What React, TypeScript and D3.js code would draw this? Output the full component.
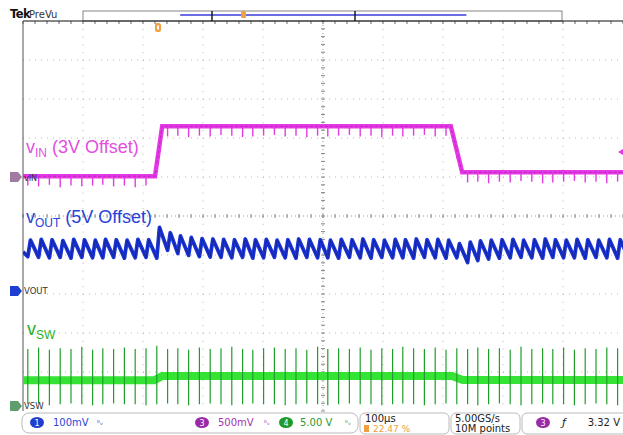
import React from 'react';
import * as d3 from 'd3';

const W = 623;
const H = 435;

// Horizontal: 100 µs/div, 10 divisions
const timeDomainUs = [0, 1000];
const timeGridUs = [100, 200, 300, 400, 500, 600, 700, 800, 900];
const divGrid = [-4, -3, -2, -1, 1, 2, 3, 4];

// channel setup (marker position in divisions, volts per division)
const vinMarkerDiv = 1.0;
const vinVoltsPerDiv = 0.5;
const voutMarkerDiv = -1.92;
const voutMvPerDiv = 100;
const vswMarkerDiv = -4.87;
const vswVoltsPerDiv = 5;

// switching events (µs)
const switchTimesUs = [
  8, 26, 44, 62, 80, 98, 116, 133, 151, 169, 187, 205, 223, 241, 258, 276, 294, 312, 330, 348,
  366, 383, 401, 419, 437, 455, 473, 491, 508, 526, 544, 562, 580, 598, 616, 633, 651, 669, 687, 705,
  723, 741, 758, 776, 794, 812, 830, 848, 866, 883, 901, 919, 937, 955, 973, 991,
];
const switchPeriodUs = 17.87;

// VOUT ripple (mV above offset)
const voutStartMv = 100;
const voutPeakMv = [
  130, 132, 131, 129, 132, 131, 130, 132, 131, 130, 132, 131,
  163, 149, 141, 137, 134, 133,
  132, 131, 133, 131, 132, 130, 131, 133, 132, 131, 130, 132, 131, 133, 131, 130, 132, 131, 133, 131, 132, 130,
  121, 125, 128, 130,
  131, 132, 130, 131, 133, 131, 130, 132, 131, 130, 132, 131,
];
const voutTroughMv = [
  86, 85, 86, 84, 86, 85, 85, 86, 84, 85, 86, 84,
  104, 96, 91, 88, 87, 86,
  85, 86, 84, 85, 86, 85, 84, 86, 85, 85, 84, 86, 85, 84, 86, 85, 85, 84, 86, 85, 84, 85,
  73, 78, 82, 84,
  85, 86, 85, 84, 86, 85, 85, 84, 86, 85, 84, 85,
];

// VIN (V above 3V offset)
const vinStepTimesUs = [0, 220, 232, 713, 732, 1000];
const vinLevelV = [0.01, 0.01, 0.65, 0.65, 0.06, 0.06];
const vinSpikeV = [
  0.12, 0.13, 0.11, 0.14, 0.12, 0.13, 0.12, 0.11, 0.13, 0.12, 0.14, 0.12, 0.10, 0.13, 0.12, 0.14,
  0.12, 0.13, 0.11, 0.12, 0.14, 0.13, 0.12, 0.11, 0.13, 0.12, 0.14, 0.12, 0.13, 0.12, 0.11, 0.13,
  0.12, 0.14, 0.12, 0.13, 0.12, 0.11, 0.13, 0.12, 0.10, 0.13, 0.12, 0.14, 0.12, 0.13, 0.11, 0.12,
  0.14, 0.13, 0.12, 0.11, 0.13, 0.12, 0.14, 0.12,
];

// VSW (V)
const vswStepTimesUs = [0, 219, 232, 715, 733, 1000];
const vswLevelV = [3.3, 3.3, 3.85, 3.85, 3.33, 3.33];
const vswSpikeHighV = [
  7.3, 7.5, 7.2, 7.4, 7.3, 7.6, 7.2, 7.4, 7.3, 7.5, 7.3, 7.4, 7.7, 7.3, 7.4, 7.2,
  7.5, 7.3, 7.4, 7.6, 7.3, 7.2, 7.4, 7.5, 7.3, 7.4, 7.2, 7.6, 7.3, 7.4, 7.3, 7.5,
  7.2, 7.4, 7.3, 7.6, 7.4, 7.3, 7.5, 7.2, 7.4, 7.3, 7.5, 7.3, 7.4, 7.2, 7.6, 7.3,
  7.4, 7.3, 7.5, 7.2, 7.4, 7.3, 7.5, 7.4,
];
const vswSpikeLowV = [
  0.2, 0.3, 0.1, 0.2, 0.3, 0.2, 0.1, 0.2, 0.3, 0.2, 0.2, 0.1, 0.2, 0.3, 0.2, 0.1,
  0.2, 0.3, 0.2, 0.1, 0.2, 0.3, 0.2, 0.2, 0.1, 0.2, 0.3, 0.2, 0.1, 0.2, 0.3, 0.2,
  0.2, 0.1, 0.2, 0.3, 0.2, 0.1, 0.2, 0.3, 0.2, 0.2, 0.1, 0.2, 0.3, 0.2, 0.1, 0.2,
  0.3, 0.2, 0.2, 0.1, 0.2, 0.3, 0.2, 0.1,
];

const PLOT = { left: 23, right: 623, top: 21, bottom: 411 };

const COL = {
  vin: '#e33ae3',
  vinDark: '#c51fc8',
  vinLabel: '#e24fe0',
  vout: '#1b34d6',
  voutDark: '#14269e',
  voutLabel: '#2942d8',
  vswBand: '#35e335',
  vswSpike: '#1f9f2a',
  vswLabel: '#25b02b',
  grid: '#b8b8b8',
};

export default function App() {
  const x = d3.scaleLinear().domain(timeDomainUs).range([PLOT.left, PLOT.right]);
  const div = d3.scaleLinear().domain([-5, 5]).range([PLOT.bottom, PLOT.top]);
  const yVin = (v: number) => div(vinMarkerDiv + v / vinVoltsPerDiv);
  const yVout = (mv: number) => div(voutMarkerDiv + mv / voutMvPerDiv);
  const yVsw = (v: number) => div(vswMarkerDiv + v / vswVoltsPerDiv);

  const vinLevel = d3.scaleLinear().domain(vinStepTimesUs).range(vinLevelV).clamp(true);

  const line = d3.line<[number, number]>().x((d) => d[0]).y((d) => d[1]);

  // VOUT sawtooth points
  const riseUs = switchPeriodUs * 0.25;
  const voutPts: [number, number][] = [[x(0), yVout(voutStartMv)]];
  switchTimesUs.forEach((t, k) => {
    const prevTrough = k === 0 ? voutStartMv - 12 : voutTroughMv[k - 1];
    const next = k + 1 < switchTimesUs.length ? switchTimesUs[k + 1] : t + switchPeriodUs;
    voutPts.push([x(t), yVout(prevTrough)]);
    voutPts.push([x(t + riseUs), yVout(voutPeakMv[k])]);
    voutPts.push([x(next), yVout(voutTroughMv[k])]);
  });

  const vinPts: [number, number][] = vinStepTimesUs.map((t, i) => [x(t), yVin(vinLevelV[i])]);
  const vswPts: [number, number][] = vswStepTimesUs.map((t, i) => [x(t), yVsw(vswLevelV[i])]);

  const xTicksMinor = d3.range(0, 1000.1, 20);
  const yTicksMinor = d3.range(-5, 5.01, 0.2);

  const cx = x(500);
  const cy = div(0);

  const sans = 'Liberation Sans, Arial, sans-serif';
  const ui = 'DejaVu Sans, sans-serif';

  return (
    <svg width={W} height={H} style={{ position: 'absolute', left: 0, top: 0, background: '#fff' }}>
      <defs>
        <clipPath id="plotClip">
          <rect x={PLOT.left} y={PLOT.top} width={PLOT.right - PLOT.left} height={PLOT.bottom - PLOT.top + 2} />
        </clipPath>
      </defs>
      <rect x={0} y={0} width={W} height={H} fill="#fff" />

      {/* header */}
      <text x={10} y={18} fontFamily={ui} fontSize={11.5} fontWeight="bold" fill="#111" letterSpacing={-0.5}>Tek</text>
      <text x={29} y={18} fontFamily={ui} fontSize={10} fill="#333">PreVu</text>
      <rect x={83} y={11} width={479} height={10} fill="#fff" stroke="#666" strokeWidth={0.8} />
      <line x1={x(262)} x2={x(739)} y1={15} y2={15} stroke="#3a3ad8" strokeWidth={1.6} />
      <line x1={212} x2={212} y1={11} y2={21} stroke="#111" strokeWidth={1.4} />
      <line x1={355} x2={355} y1={11} y2={21} stroke="#111" strokeWidth={1.4} />
      <rect x={241} y={11} width={5} height={7} rx={1.5} fill="#f0a040" />

      {/* grid */}
      <g>
        {timeGridUs.map((t) => (
          <line key={'vg' + t} x1={x(t)} x2={x(t)} y1={PLOT.top} y2={PLOT.bottom} stroke={COL.grid}
            strokeWidth={1} strokeDasharray="1 6.8" />
        ))}
        {divGrid.map((d) => (
          <line key={'hg' + d} x1={PLOT.left} x2={PLOT.right} y1={div(d)} y2={div(d)} stroke={COL.grid}
            strokeWidth={1} strokeDasharray="1 5" />
        ))}
        {/* center lines with minor ticks */}
        <line x1={PLOT.left} x2={PLOT.right} y1={cy} y2={cy} stroke="#999" strokeWidth={1} strokeDasharray="1 3" />
        <line x1={cx} x2={cx} y1={PLOT.top} y2={PLOT.bottom} stroke="#999" strokeWidth={1} strokeDasharray="1 3" />
        {xTicksMinor.map((t) => (
          <line key={'xt' + t} x1={x(t)} x2={x(t)} y1={cy - 2} y2={cy + 2} stroke="#888" strokeWidth={1} />
        ))}
        {yTicksMinor.map((d) => (
          <line key={'yt' + d} x1={cx - 2} x2={cx + 2} y1={div(d)} y2={div(d)} stroke="#888" strokeWidth={1} />
        ))}
        {xTicksMinor.map((t) => (
          <line key={'tt' + t} x1={x(t)} x2={x(t)} y1={PLOT.top} y2={PLOT.top + 3} stroke="#666" strokeWidth={1} />
        ))}
        <line x1={PLOT.left} x2={PLOT.right} y1={PLOT.top} y2={PLOT.top} stroke="#111" strokeWidth={1.2} />
        <line x1={PLOT.left} x2={PLOT.left} y1={PLOT.top} y2={PLOT.bottom} stroke="#555" strokeWidth={1} />
      </g>

      {/* trigger position marker */}
      <rect x={x(225) - 3} y={23} width={6} height={9} rx={2.5} fill="#f0a040" />
      <rect x={x(225) - 1} y={25.5} width={2} height={4} fill="#fff" />

      {/* waveforms */}
      <g clipPath="url(#plotClip)">
        {/* VSW */}
        <path d={line(vswPts) ?? ''} fill="none" stroke={COL.vswBand} strokeWidth={8} />
        {switchTimesUs.map((t, k) => (
          <line key={'sw' + k} x1={x(t)} x2={x(t)} y1={yVsw(vswSpikeHighV[k] ?? 7.3)} y2={yVsw(vswSpikeLowV[k] ?? 0.2)}
            stroke={COL.vswSpike} strokeWidth={1.2} />
        ))}
        {/* VIN */}
        <path d={line(vinPts) ?? ''} fill="none" stroke={COL.vin} strokeWidth={4.5} />
        <path d={line(vinPts) ?? ''} fill="none" stroke={COL.vinDark} strokeWidth={1} strokeDasharray="3 2" />
        {switchTimesUs.map((t, k) => (
          <line key={'vi' + k} x1={x(t)} x2={x(t)} y1={yVin(vinLevel(t)) + 1} y2={yVin(vinLevel(t) - (vinSpikeV[k] ?? 0.12))}
            stroke={COL.vin} strokeWidth={1.4} />
        ))}
        {/* VOUT */}
        <path d={line(voutPts) ?? ''} fill="none" stroke={COL.vout} strokeWidth={3.8} strokeLinejoin="round" />
        <path d={line(voutPts) ?? ''} fill="none" stroke={COL.voutDark} strokeWidth={1} strokeLinejoin="round" />
      </g>

      {/* labels */}
      <text x={26} y={153} fontFamily={sans} fontSize={18} fill={COL.vinLabel}>
        v<tspan fontSize={12} dy={4}>IN</tspan><tspan dy={-4}> (3V Offset)</tspan>
      </text>
      <text x={26} y={223} fontFamily={sans} fontSize={18} fill={COL.voutLabel}>
        v<tspan fontSize={12} dy={4}>OUT</tspan><tspan dy={-4}> (5V Offset)</tspan>
      </text>
      <text x={27} y={335} fontFamily={sans} fontSize={18} fill={COL.vswLabel}>
        v<tspan fontSize={12} dy={4}>SW</tspan>
      </text>

      {/* channel ground markers */}
      <path d={`M10,${yVin(0) - 5}h8l4,5l-4,5h-8z`} fill="#a07aa0" />
      <text x={24} y={yVin(0) + 3.5} fontFamily={ui} fontSize={8} fill="#333">vIN</text>
      <path d={`M10,${div(voutMarkerDiv) - 5}h8l4,5l-4,5h-8z`} fill="#1f3fd0" />
      <text x={24} y={div(voutMarkerDiv) + 3.5} fontFamily={ui} fontSize={8.5} fill="#333">VOUT</text>
      <path d={`M10,${div(vswMarkerDiv) - 5}h8l4,5l-4,5h-8z`} fill="#5e9e6e" />
      <text x={24} y={div(vswMarkerDiv) + 3.5} fontFamily={ui} fontSize={8.5} fill="#333">VSW</text>

      {/* trigger level marker on right */}
      <path d={`M623,${yVin(0.32) - 3}l-5,3l5,3z`} fill={COL.vin} />

      {/* status bar */}
      <rect x={22} y={413} width={336} height={20} rx={7} fill="#fff" stroke="#aaa" strokeWidth={0.8} />
      <ellipse cx={37} cy={422.5} rx={7} ry={5.5} fill="#1f3fd0" />
      <text x={37} y={425.5} textAnchor="middle" fontFamily={ui} fontSize={8} fill="#fff">1</text>
      <text x={53} y={426} fontFamily={ui} fontSize={10} fill="#2a46d8">100mV</text>
      <text x={97} y={425} fontFamily={ui} fontSize={7} fill="#2a46d8">ᵇᵥ</text>
      <ellipse cx={202} cy={422.5} rx={7} ry={5.5} fill="#9a2aa8" />
      <text x={202} y={425.5} textAnchor="middle" fontFamily={ui} fontSize={8} fill="#fff">3</text>
      <text x={218} y={426} fontFamily={ui} fontSize={10} fill="#a533b3">500mV</text>
      <text x={264} y={425} fontFamily={ui} fontSize={7} fill="#a533b3">ᵇᵥ</text>
      <ellipse cx={286} cy={422.5} rx={7} ry={5.5} fill="#1e9a2a" />
      <text x={286} y={425.5} textAnchor="middle" fontFamily={ui} fontSize={8} fill="#fff">4</text>
      <text x={300} y={426} fontFamily={ui} fontSize={10} fill="#2a9a32">5.00 V</text>
      <text x={345} y={425} fontFamily={ui} fontSize={7} fill="#2a9a32">ᵇᵥ</text>

      <rect x={360} y={413} width={89} height={21} rx={5} fill="#fff" stroke="#aaa" strokeWidth={0.8} />
      <text x={365} y={422} fontFamily={ui} fontSize={10} fill="#222">100µs</text>
      <rect x={364} y={425} width={5} height={7} fill="#f0a040" />
      <text x={373} y={432} fontFamily={ui} fontSize={9} fill="#f0a040">22.47 %</text>

      <rect x={451} y={413} width={69} height={21} rx={5} fill="#fff" stroke="#aaa" strokeWidth={0.8} />
      <text x={455} y={422} fontFamily={ui} fontSize={10} fill="#222">5.00GS/s</text>
      <text x={455} y={432} fontFamily={ui} fontSize={10} fill="#222">10M points</text>

      <rect x={522} y={413} width={108} height={21} rx={5} fill="#fff" stroke="#aaa" strokeWidth={0.8} />
      <ellipse cx={543} cy={422.5} rx={7} ry={5.5} fill="#9a2aa8" />
      <text x={543} y={425.5} textAnchor="middle" fontFamily={ui} fontSize={8} fill="#fff">3</text>
      <text x={562} y={426} fontFamily={ui} fontSize={11} fontStyle="italic" fill="#222">ƒ</text>
      <text x={620} y={426} textAnchor="end" fontFamily={ui} fontSize={10} fill="#222">3.32 V</text>
    </svg>
  );
}
